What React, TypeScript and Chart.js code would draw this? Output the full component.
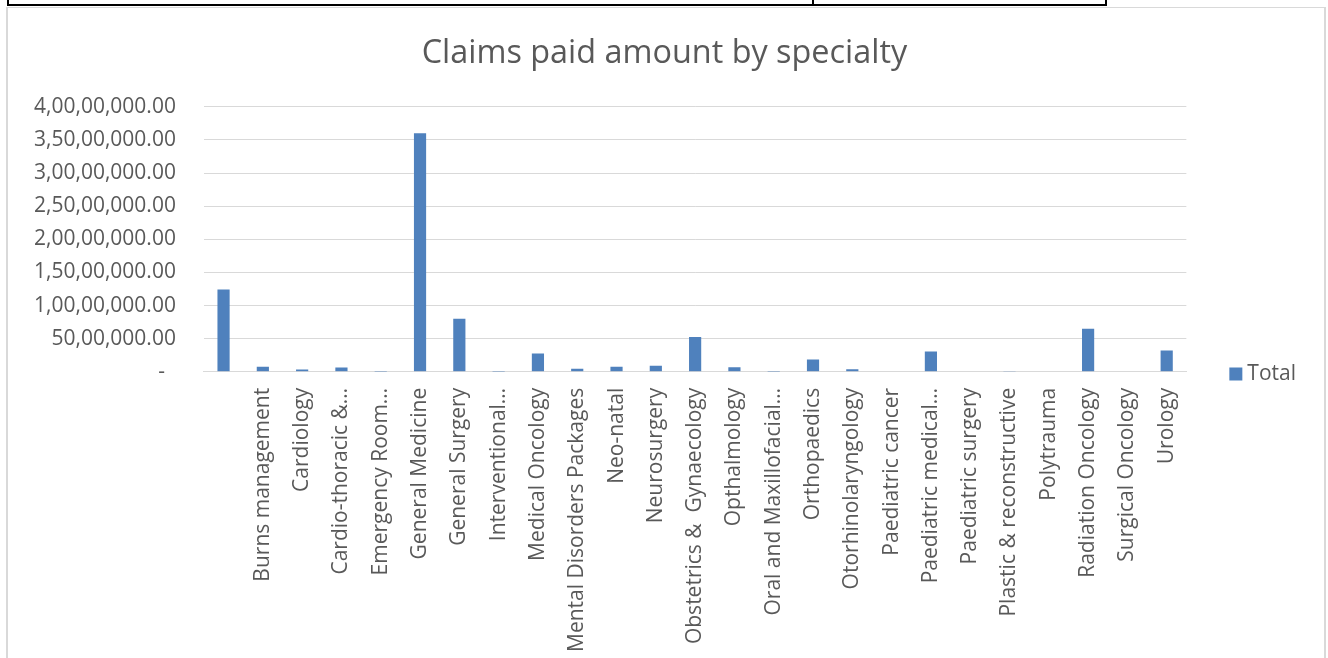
import React, { useEffect, useRef } from "react";
import { Chart, registerables } from "chart.js";

Chart.register(...registerables);

const categories: string[] = [
  "",
  "Burns management",
  "Cardiology",
  "Cardio-thoracic &…",
  "Emergency Room…",
  "General Medicine",
  "General Surgery",
  "Interventional…",
  "Medical Oncology",
  "Mental Disorders Packages",
  "Neo-natal",
  "Neurosurgery",
  "Obstetrics &  Gynaecology",
  "Opthalmology",
  "Oral and Maxillofacial…",
  "Orthopaedics",
  "Otorhinolaryngology",
  "Paediatric cancer",
  "Paediatric medical…",
  "Paediatric surgery",
  "Plastic & reconstructive",
  "Polytrauma",
  "Radiation Oncology",
  "Surgical Oncology",
  "Urology",
];

const totalValues: number[] = [
  12440000, 750000, 350000, 650000, 10000, 36000000, 8000000, 10000, 2750000,
  450000, 750000, 900000, 5260000, 700000, 10000, 1850000, 400000, 100000,
  3050000, 100000, 50000, 100000, 6500000, 100000, 3200000,
];

const seriesName = "Total";
const chartTitle = "Claims paid amount by specialty";
const yMax = 40000000;
const yStep = 5000000;

function formatIndian(v: number): string {
  if (v === 0) return "-  ";
  const s = Math.round(v).toString();
  const last3 = s.slice(-3);
  let rest = s.slice(0, -3);
  const parts: string[] = [];
  while (rest.length > 2) {
    parts.unshift(rest.slice(-2));
    rest = rest.slice(0, -2);
  }
  if (rest.length) parts.unshift(rest);
  const head = parts.length ? parts.join(",") + "," : "";
  return head + last3 + ".00";
}

const FONT = "'Open Sans', sans-serif";
const TEXT = "#595959";
const GRID = "#d9d9d9";
const BAR = "#4f81bd";

export default function App() {
  const ref = useRef<HTMLCanvasElement | null>(null);
  useEffect(() => {
    if (!ref.current) return;
    const chart = new Chart(ref.current, {
      type: "bar",
      data: {
        labels: categories,
        datasets: [
          {
            label: seriesName,
            data: totalValues,
            backgroundColor: BAR,
            borderWidth: 0,
            categoryPercentage: 1,
            barPercentage: 0.31,
          },
        ],
      },
      options: {
        responsive: false,
        animation: false,
        devicePixelRatio: 1,
        layout: { padding: { left: 0, right: 0, top: 0, bottom: 0 } },
        plugins: {
          title: {
            display: true,
            text: "  " + chartTitle,
            color: TEXT,
            font: { family: FONT, size: 32.4, weight: "normal" },
            padding: { top: 26, bottom: 34 },
          },
          legend: {
            display: true,
            position: "right",
            title: {
              display: true,
              text: " ",
              padding: { top: 0, bottom: 48 },
              font: { family: FONT, size: 20 },
            },
            labels: {
              color: TEXT,
              font: { family: FONT, size: 21 },
              boxWidth: 2,
              boxHeight: 2,
              padding: 48.5,
              generateLabels: (c: any) =>
                Chart.defaults.plugins.legend.labels
                  .generateLabels(c)
                  .map((it: any) => ({
                    ...it,
                    fillStyle: BAR,
                    strokeStyle: BAR,
                    lineWidth: 11,
                  })),
            },
          },
          tooltip: { enabled: false },
        },
        scales: {
          x: {
            grid: { display: false, drawTicks: false },
            border: { display: true, color: GRID, width: 1 },
            ticks: {
              color: TEXT,
              font: { family: FONT, size: 21 },
              minRotation: 90,
              maxRotation: 90,
              autoSkip: false,
              padding: 16,
            },
          },
          y: {
            min: 0,
            max: yMax,
            grid: { color: GRID, lineWidth: 1, drawTicks: false },
            border: { display: false },
            ticks: {
              stepSize: yStep,
              color: TEXT,
              font: { family: FONT, size: 21 },
              padding: 28,
              callback: (v: any) => formatIndian(Number(v)),
            },
          },
        },
      },
    });
    return () => chart.destroy();
  }, []);

  return (
    <div
      style={{
        position: "absolute",
        left: 0,
        top: 0,
        width: 1328,
        height: 658,
        overflow: "hidden",
        background: "#ffffff",
      }}
    >
      <div
        style={{
          position: "absolute",
          left: 6,
          top: 7,
          width: 1316,
          height: 700,
          borderLeft: "2px solid #d9d9d9",
          borderTop: "1px solid #d9d9d9",
          borderRight: "2px solid #d9d9d9",
        }}
      />
      <div
        style={{
          position: "absolute",
          left: 7,
          top: -4,
          width: 1096,
          height: 8,
          borderLeft: "2px solid #000",
          borderRight: "2px solid #000",
          borderBottom: "2px solid #000",
        }}
      />
      <div
        style={{
          position: "absolute",
          left: 812,
          top: 0,
          width: 2,
          height: 6,
          background: "#000",
        }}
      />
      <canvas
        ref={ref}
        width={1300}
        height={660}
        style={{ position: "absolute", left: 6, top: 8, width: 1300, height: 660 }}
      />
    </div>
  );
}
